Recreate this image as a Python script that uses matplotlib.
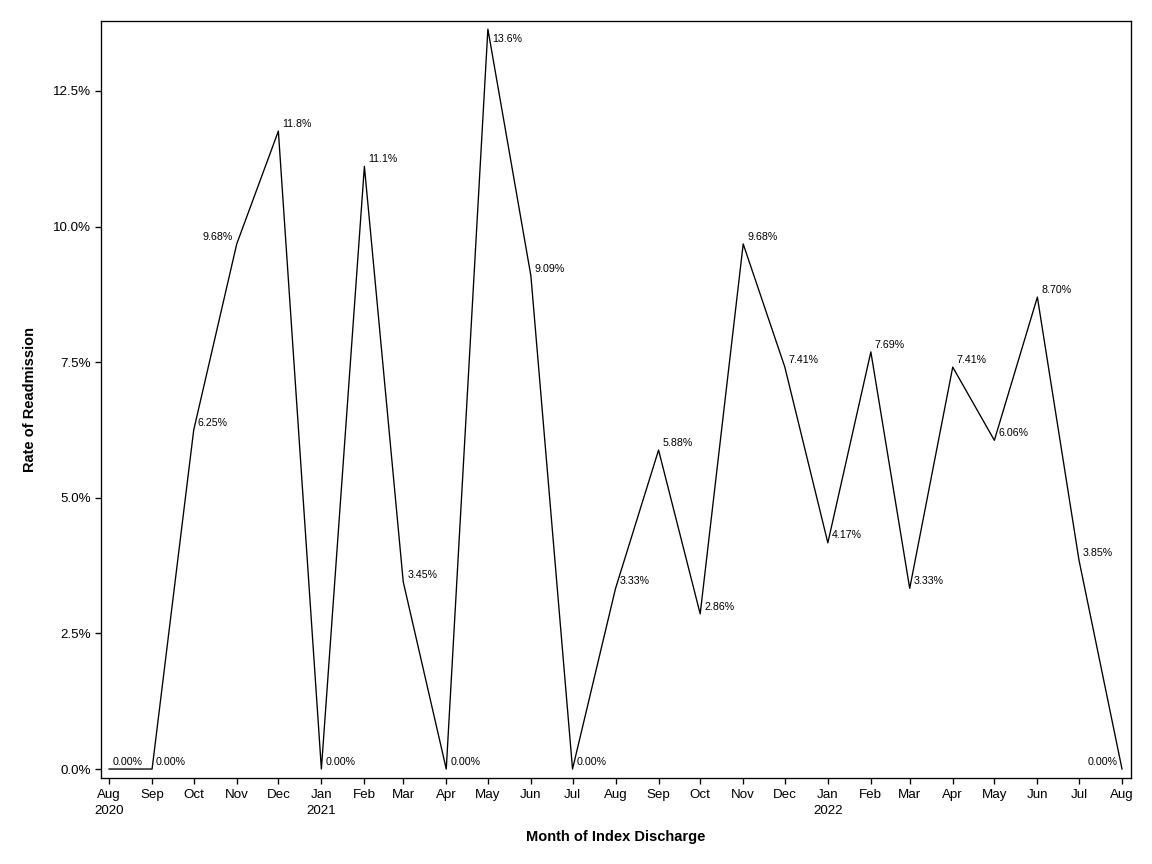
import matplotlib
matplotlib.use('Agg')

import pandas as pd
import matplotlib.pyplot as plt
from matplotlib.ticker import FuncFormatter

months = pd.date_range('2020-08-01', '2022-08-01', freq='MS')
rates = [0.00, 0.00, 6.25, 9.68, 11.76, 0.00, 11.11, 3.45, 0.00, 13.64, 9.09, 0.00,
         3.33, 5.88, 2.86, 9.68, 7.41, 4.17, 7.69, 3.33, 7.41, 6.06, 8.70, 3.85, 0.00]
labels = ['0.00%', '0.00%', '6.25%', '9.68%', '11.8%', '0.00%', '11.1%', '3.45%', '0.00%',
          '13.6%', '9.09%', '0.00%', '3.33%', '5.88%', '2.86%', '9.68%', '7.41%', '4.17%',
          '7.69%', '3.33%', '7.41%', '6.06%', '8.70%', '3.85%', '0.00%']
left_side = {3, 24}
below = {9}

plt.rcParams['font.family'] = ['Liberation Sans', 'DejaVu Sans']

fig = plt.figure(figsize=(12, 9), dpi=96)
ax = fig.add_axes([0.0877, 0.0995, 0.8941, 0.8762])
ax.plot(months, rates, color='black', linewidth=1)

for i, (d, r, t) in enumerate(zip(months, rates, labels)):
    if i in left_side:
        ax.annotate(t, (d, r), xytext=(-3, 5.5), textcoords='offset points',
                    ha='right', va='center', fontsize=8)
    elif i in below:
        ax.annotate(t, (d, r), xytext=(3, -7.5), textcoords='offset points',
                    ha='left', va='center', fontsize=8)
    else:
        ax.annotate(t, (d, r), xytext=(3, 5.5), textcoords='offset points',
                    ha='left', va='center', fontsize=8)

ax.set_xlim(months[0] - pd.Timedelta(days=5.8), months[-1] + pd.Timedelta(days=6.5))
ax.set_ylim(-0.166, 13.79)
ax.set_yticks([0, 2.5, 5, 7.5, 10, 12.5])
ax.yaxis.set_major_formatter(FuncFormatter(lambda v, p: f'{v:.1f}%'))

ax.set_xticks(months)
tick_text = []
for d in months:
    s = d.strftime('%b')
    if d == months[0] or d.month == 1:
        s += '\n' + d.strftime('%Y')
    tick_text.append(s)
ax.set_xticklabels(tick_text, linespacing=1.4)

ax.tick_params(axis='both', direction='out', length=4.5, width=1, labelsize=10, pad=3)
ax.tick_params(axis='x', pad=4)
for sp in ax.spines.values():
    sp.set_linewidth(1)

ax.set_xlabel('Month of Index Discharge', fontsize=11, fontweight='bold', labelpad=10)
ax.set_ylabel('Rate of Readmission', fontsize=11, fontweight='bold', labelpad=12)

plt.savefig('out.png', dpi=96)
